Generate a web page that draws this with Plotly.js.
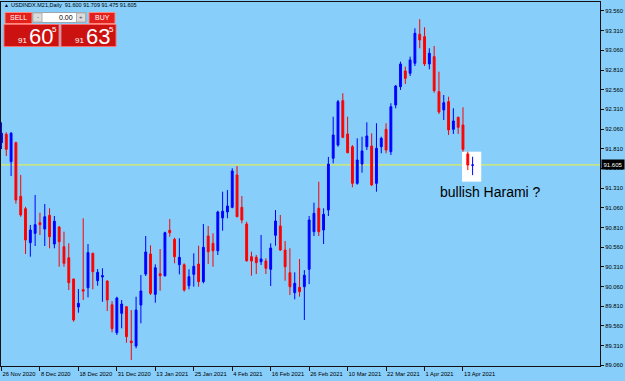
<!DOCTYPE html>
<html>
<head>
<meta charset="utf-8">
<script src="https://cdn.plot.ly/plotly-3.0.1.min.js"></script>
<style>
  html, body { margin: 0; padding: 0; background: #87CEFA; }
  #chart { width: 625px; height: 381px; }
</style>
</head>
<body>
<div id="chart"></div>
<script>
// ---- data (USDINDX.M21, Daily) ----
const dates = [
  '2020-11-26','2020-11-27','2020-11-30',
  '2020-12-01','2020-12-02','2020-12-03','2020-12-04','2020-12-07','2020-12-08','2020-12-09','2020-12-10','2020-12-11',
  '2020-12-14','2020-12-15','2020-12-16','2020-12-17','2020-12-18','2020-12-21','2020-12-22','2020-12-23','2020-12-24',
  '2020-12-28','2020-12-29','2020-12-30','2020-12-31',
  '2021-01-04','2021-01-05','2021-01-06','2021-01-07','2021-01-08','2021-01-11','2021-01-12','2021-01-13','2021-01-14',
  '2021-01-15','2021-01-18','2021-01-19','2021-01-20','2021-01-21','2021-01-22','2021-01-25','2021-01-26','2021-01-27',
  '2021-01-28','2021-01-29',
  '2021-02-01','2021-02-02','2021-02-03','2021-02-04','2021-02-05','2021-02-08','2021-02-09','2021-02-10','2021-02-11',
  '2021-02-12','2021-02-15','2021-02-16','2021-02-17','2021-02-18','2021-02-19','2021-02-22','2021-02-23','2021-02-24',
  '2021-02-25','2021-02-26',
  '2021-03-01','2021-03-02','2021-03-03','2021-03-04','2021-03-05','2021-03-08','2021-03-09','2021-03-10','2021-03-11',
  '2021-03-12','2021-03-15','2021-03-16','2021-03-17','2021-03-18','2021-03-19','2021-03-22','2021-03-23','2021-03-24',
  '2021-03-25','2021-03-26','2021-03-29','2021-03-30','2021-03-31',
  '2021-04-01','2021-04-02','2021-04-05','2021-04-06','2021-04-07','2021-04-08','2021-04-09','2021-04-12','2021-04-13',
  '2021-04-14','2021-04-15'
];
const openP = [
  91.887,91.994,91.646,91.887,91.206,91.049,90.617,90.736,90.871,90.791,
  90.965,90.600,90.816,90.566,90.426,90.156,89.800,90.020,90.045,90.482,
  90.134,90.181,90.130,89.829,89.474,89.720,89.804,89.368,89.305,89.826,
  90.219,90.474,89.961,90.223,90.198,90.774,90.660,90.337,90.337,90.071,
  90.215,90.346,90.122,90.702,90.609,90.515,90.931,91.007,91.066,91.477,
  91.066,90.854,90.439,90.431,90.375,90.385,90.279,90.711,90.829,90.524,
  90.236,89.982,90.050,90.058,90.279,90.757,91.054,90.778,91.032,91.689,
  91.858,92.421,91.998,91.836,91.371,91.616,91.836,91.845,91.371,91.836,
  92.057,91.773,92.366,92.598,92.798,92.769,92.896,93.264,93.234,92.887,
  92.980,92.535,92.303,92.408,92.057,92.210,92.112,91.744,91.600
];
const highP = [
  92.146,92.019,92.023,91.900,91.477,91.074,90.842,91.223,90.998,91.109,
  91.054,90.956,90.829,90.757,90.609,90.160,90.029,90.927,90.600,90.490,
  90.283,90.292,90.140,89.873,89.931,89.889,89.810,89.762,89.931,90.207,
  90.702,90.584,90.342,90.537,90.757,90.918,90.680,90.673,90.355,90.279,
  90.482,90.579,90.854,90.829,90.736,91.023,91.265,91.286,91.562,91.591,
  91.210,90.884,90.503,90.461,90.715,90.419,90.609,91.032,90.969,90.639,
  90.546,90.241,90.410,90.270,90.956,91.125,91.392,91.054,91.706,92.217,
  92.430,92.515,92.217,91.858,91.943,91.963,92.146,92.006,92.134,91.963,
  92.134,92.388,92.620,92.916,92.853,92.980,93.340,93.455,93.353,93.086,
  93.115,92.789,92.493,92.471,92.324,92.217,92.337,91.773,91.709
];
const lowP = [
  91.807,91.718,91.464,91.112,90.947,90.473,90.439,90.575,90.715,90.575,
  90.546,90.546,90.312,90.312,90.016,89.613,89.728,89.889,89.923,90.025,
  90.071,89.867,89.749,89.479,89.445,89.530,89.347,89.127,89.276,89.593,
  90.194,89.952,89.855,90.007,90.185,90.693,90.355,90.215,89.995,90.025,
  90.058,90.058,90.101,90.346,90.312,90.461,90.769,90.927,91.054,90.940,
  90.863,90.375,90.198,90.219,90.334,90.219,90.067,90.579,90.515,90.134,
  89.952,89.898,89.931,89.635,90.092,90.702,90.702,90.600,90.956,91.625,
  91.836,91.943,91.753,91.321,91.354,91.506,91.794,91.337,91.265,91.753,
  91.753,91.731,92.324,92.557,92.633,92.734,92.861,93.086,92.861,92.819,
  92.522,92.252,92.176,91.985,91.998,91.998,91.773,91.540,91.475
];
const closeP = [
  92.007,91.803,92.007,91.159,90.969,90.651,90.778,90.846,90.846,90.947,
  90.693,90.889,90.630,90.355,90.109,89.635,89.847,90.003,90.490,90.249,
  90.241,90.198,89.889,89.525,89.914,89.838,89.423,89.347,89.762,90.003,
  90.499,89.974,90.299,90.198,90.744,90.744,90.439,90.431,90.016,90.185,
  90.317,90.122,90.558,90.502,90.515,91.007,91.016,91.083,91.528,90.947,
  90.905,90.388,90.385,90.363,90.410,90.292,90.550,90.893,90.524,90.312,
  90.058,90.101,89.995,90.203,90.905,90.990,90.757,90.977,91.616,91.985,
  92.408,91.956,91.760,91.371,91.667,91.782,91.972,91.350,91.816,91.943,
  91.794,92.344,92.607,92.887,92.705,92.938,93.277,93.192,92.887,93.023,
  92.548,92.277,92.395,92.049,92.163,92.083,91.803,91.604,91.605
];
const xTickDates  = ['2020-11-26','2020-12-08','2020-12-18','2020-12-31','2021-01-13','2021-01-25','2021-02-04',
                     '2021-02-16','2021-02-26','2021-03-10','2021-03-22','2021-04-01','2021-04-13'];
const xTickLabels = ['26 Nov 2020','8 Dec 2020','18 Dec 2020','31 Dec 2020','13 Jan 2021','25 Jan 2021','4 Feb 2021',
                     '16 Feb 2021','26 Feb 2021','10 Mar 2021','22 Mar 2021','1 Apr 2021','13 Apr 2021'];
const yTickLabels = ['93.560','93.310','93.060','92.810','92.560','92.310','92.060','91.810','91.560',
                     '91.310','91.060','90.810','90.560','90.310','90.060','89.810','89.560','89.310','89.060'];
const bidPrice = 91.605;
const askPrice = 91.635;
const symbolText = 'USDINDX.M21,Daily';
const noteText = 'bullish Harami ?';
const lotText = '0.00';

// ---- layout helpers (pixel -> paper) ----
const W = 625, H = 381, ML = 1, MR = 25, MT = 2, MB = 15;
const PW = W - ML - MR, PH = H - MT - MB;
const X = px => (px - ML) / PW;
const Y = py => (H - MB - py) / PH;
const FONT = 'Liberation Sans, Arial, sans-serif';

const shapes = [];
const annotations = [];
function rectPx(x0, y0, x1, y1, fill, line) {
  shapes.push({type: 'rect', xref: 'paper', yref: 'paper', x0: X(x0), x1: X(x1), y0: Y(y1), y1: Y(y0),
    fillcolor: fill, line: {color: line || fill, width: 1}, layer: 'above'});
}
function textPx(x, y, text, size, color, xanchor) {
  annotations.push({xref: 'paper', yref: 'paper', x: X(x), y: Y(y), text: text, showarrow: false,
    xanchor: xanchor || 'left', yanchor: 'middle', font: {family: FONT, size: size, color: color}, borderpad: 0});
}

// bid line + highlighted box (drawn under candles)
shapes.push({type: 'line', xref: 'paper', yref: 'y', x0: 0, x1: 1, y0: bidPrice, y1: bidPrice,
  line: {color: '#f2f23a', width: 1}, layer: 'below'});
shapes.push({type: 'rect', xref: 'x', yref: 'y', x0: 95.8, x1: 99.8, y0: 91.392, y1: 91.773,
  fillcolor: '#ffffff', line: {width: 0}, layer: 'below'});

// header
const n = closeP.length - 1;
textPx(2.5, 5.5, '▲', 5, '#000000');
textPx(10, 5.5, symbolText + '  ' + [openP[n], highP[n], lowP[n], closeP[n]].map(v => v.toFixed(3)).join(' '), 5.5, '#000000');

// trade panel
rectPx(5, 12.5, 32, 23.5, '#e3201c', '#ff8a80');
textPx(18.5, 18, 'SELL', 7, '#ffffff', 'center');
rectPx(32.5, 12.5, 86, 22.5, '#ffffff', '#9aa6b0');
rectPx(33, 13, 42, 22, '#dcdcdc', '#b0b0b0');
rectPx(76.5, 13, 85.5, 22, '#dcdcdc', '#b0b0b0');
textPx(37.5, 17, '-', 6, '#404040', 'center');
textPx(81, 17, '+', 6, '#404040', 'center');
textPx(73.5, 17.5, lotText, 7, '#000000', 'right');
rectPx(89, 12.5, 115, 23.5, '#e3201c', '#ff8a80');
textPx(102, 18, 'BUY', 7, '#ffffff', 'center');

function priceBox(x0, price) {
  const s = price.toFixed(3);           // "91.605"
  const big = s.slice(3, 5), pip = s.slice(5), fig = s.slice(0, 2);
  rectPx(x0, 24.5, x0 + 55, 46.5, '#cc1111', '#ff6a6a');
  textPx(x0 + 13, 40.5, fig, 8, '#ffffff');
  textPx(x0 + 23.5, 36, big, 22, '#ffffff');
  textPx(x0 + 47, 29.5, pip, 8, '#ffffff');
}
priceBox(4, bidPrice);
priceBox(61, askPrice);

// note text
textPx(490, 192, noteText, 14, '#000000', 'center');

// current price label
annotations.push({xref: 'paper', yref: 'y', x: 1, y: bidPrice, xanchor: 'left', yanchor: 'middle',
  text: bidPrice.toFixed(3), showarrow: false, bgcolor: '#000000', borderpad: 1.5, xshift: 1,
  font: {family: FONT, size: 6, color: '#ffffff'}});

const trace = {
  type: 'candlestick', x: dates, open: openP, high: highP, low: lowP, close: closeP,
  increasing: {line: {color: '#0000ff', width: 1}, fillcolor: '#0000ff'},
  decreasing: {line: {color: '#ff0000', width: 1}, fillcolor: '#ff0000'},
  whiskerwidth: 0, hoverinfo: 'none', showlegend: false
};

const layout = {
  width: W, height: H,
  margin: {l: ML, r: MR, t: MT, b: MB, pad: 0},
  paper_bgcolor: '#87CEFA', plot_bgcolor: '#87CEFA',
  font: {family: FONT, color: '#000000', size: 6},
  showlegend: false,
  boxgap: 0.45,
  xaxis: {
    type: 'category', range: [-0.1, 124.5], fixedrange: true,
    rangeslider: {visible: false},
    showgrid: false, zeroline: false,
    showline: true, linecolor: '#111111', linewidth: 1, mirror: true,
    ticks: 'outside', ticklen: 4, tickcolor: '#111111', tickwidth: 1,
    tickmode: 'array', tickvals: xTickDates, ticktext: xTickLabels,
    tickangle: 0, ticklabelposition: 'outside right', ticklabelstandoff: 2,
    tickfont: {family: FONT, size: 5.8, color: '#000000'},
    automargin: false
  },
  yaxis: {
    side: 'right', range: [89.051, 93.674], fixedrange: true,
    showgrid: false, zeroline: false,
    showline: true, linecolor: '#111111', linewidth: 1, mirror: true,
    ticks: 'outside', ticklen: 3, tickcolor: '#111111', tickwidth: 1,
    tickmode: 'array', tickvals: yTickLabels.map(Number), ticktext: yTickLabels,
    tickfont: {family: FONT, size: 5.8, color: '#000000'},
    automargin: false
  },
  shapes: shapes,
  annotations: annotations
};

Plotly.newPlot('chart', [trace], layout, {staticPlot: true, displayModeBar: false});
</script>
</body>
</html>
